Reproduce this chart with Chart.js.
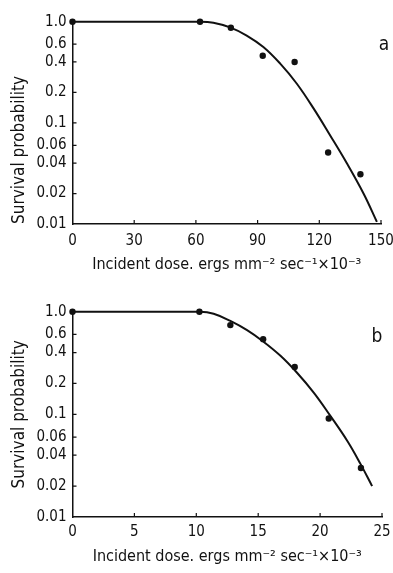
<!DOCTYPE html>
<html>
<head>
<meta charset="utf-8">
<script src="https://cdn.jsdelivr.net/npm/chart.js@4.4.1/dist/chart.umd.min.js"></script>
<style>
  html,body{margin:0;padding:0;background:#fff;}
  .wrap{position:absolute;left:0;width:393px;}
  #wrapA{top:0;height:286px;}
  #wrapB{top:286px;height:287px;}
</style>
</head>
<body>
<div class="wrap" id="wrapA"><canvas id="chartA"></canvas></div>
<div class="wrap" id="wrapB"><canvas id="chartB"></canvas></div>
<script>
// shared log axis ticks
const Y_TICKS=[1,0.6,0.4,0.2,0.1,0.06,0.04,0.02,0.01];
const Y_TICK_LABELS=["1.0","0.6","0.4","0.2","0.1","0.06","0.04","0.02","0.01"];

// panel a
const A_DOSE=[0,62,77,92.5,108,124.3,140];
const A_SURV=[1.0,1.0,0.87,0.46,0.40,0.051,0.031];
const A_FIT_DOSE=[0,62,68.5,76.6,84.7,92.8,101,109,117.2,125.3,133.4,141.5,148];
const A_FIT_SURV=[1,1,0.977,0.879,0.73,0.562,0.385,0.245,0.139,0.075,0.0398,0.020,0.0105];

// panel b
const B_DOSE=[0,10.25,12.75,15.4,17.95,20.7,23.3];
const B_SURV=[1.0,1.0,0.74,0.54,0.29,0.091,0.030];
const B_FIT_DOSE=[0,10.3,11.4,12.75,14.1,15.4,16.8,18.1,19.5,20.8,22.2,23.25,24.2];
const B_FIT_SURV=[1,1,0.955,0.813,0.661,0.513,0.372,0.257,0.162,0.0977,0.055,0.0331,0.020];

const X_TITLE="Incident dose. ergs mm\u207B\u00B2 sec\u207B\u00B9\u00D710\u207B\u00B3";
const Y_TITLE="Survival probability";
const FONT="'Liberation Sans Narrow','DejaVu Sans Condensed','Roboto Condensed',sans-serif";
const INK="#111";

function pts(xs,ys){return xs.map((x,i)=>({x:x,y:ys[i]}));}

// inward tick marks + panel letter
const innerTicks={
  id:"innerTicks",
  afterDatasetsDraw(chart,args,opts){
    const {ctx,chartArea:a,scales:{x,y}}=chart;
    ctx.save();
    ctx.strokeStyle=INK;ctx.lineWidth=1.2;ctx.beginPath();
    x.ticks.forEach(t=>{
      if(t.value===x.min)return;
      const px=x.getPixelForValue(t.value);
      ctx.moveTo(px,a.bottom);ctx.lineTo(px,a.bottom-4);
    });
    y.ticks.forEach(t=>{
      if(t.value===y.min||t.value===y.max)return;
      const py=y.getPixelForValue(t.value);
      ctx.moveTo(a.left,py);ctx.lineTo(a.left+4,py);
    });
    ctx.stroke();
    ctx.fillStyle=INK;ctx.font="19px "+FONT;ctx.textAlign="center";ctx.textBaseline="middle";
    ctx.fillText(opts.tag,a.right+opts.dx,a.top+opts.dy);
    ctx.restore();
  }
};

function makePanel(id,cfg){
  return new Chart(document.getElementById(id),{
    type:"scatter",
    data:{datasets:[
      {data:pts(cfg.fitX,cfg.fitY),showLine:true,borderColor:INK,borderWidth:2,pointRadius:0,
       tension:0.4,clip:false,order:2},
      {data:pts(cfg.dotX,cfg.dotY),showLine:false,pointRadius:3.2,pointBackgroundColor:INK,
       pointBorderColor:INK,pointBorderWidth:0,clip:false,order:1}
    ]},
    options:{
      responsive:true,maintainAspectRatio:false,animation:false,
      layout:{autoPadding:false,padding:{top:cfg.top,right:cfg.right,left:0,bottom:0}},
      plugins:{legend:{display:false},tooltip:{enabled:false},
        innerTicks:{tag:cfg.tag,dx:cfg.tagDx,dy:cfg.tagDy}},
      scales:{
        x:{type:"linear",min:0,max:cfg.xMax,
          ticks:{stepSize:cfg.xStep,color:INK,padding:cfg.xPad,font:{family:FONT,size:15}},
          grid:{display:false,drawTicks:false},
          border:{display:true,color:INK,width:1.5},
          title:{display:true,text:X_TITLE,color:INK,font:{family:FONT,size:16},
            padding:{top:0,bottom:cfg.titlePad}},
          afterFit:s=>{s.height=cfg.xH;s.paddingLeft=0;s.paddingRight=0;}
        },
        y:{type:"logarithmic",min:0.01,max:1,
          afterBuildTicks:s=>{s.ticks=Y_TICKS.map(v=>({value:v}));},
          ticks:{color:INK,padding:6,font:{family:FONT,size:15},autoSkip:false,
            callback:(v)=>{const i=Y_TICKS.indexOf(v);return i<0?"":Y_TICK_LABELS[i];}},
          grid:{display:false,drawTicks:false},
          border:{display:true,color:INK,width:1.5},
          title:{display:true,text:Y_TITLE,color:INK,align:cfg.yAlign,font:{family:FONT,size:17},
            padding:{top:9,bottom:0}},
          afterFit:s=>{s.width=72.5;s.paddingTop=0;s.paddingBottom=0;}
        }
      }
    },
    plugins:[innerTicks]
  });
}

makePanel("chartA",{fitX:A_FIT_DOSE,fitY:A_FIT_SURV,dotX:A_DOSE,dotY:A_SURV,
  xMax:150,xStep:30,top:21.7,right:12,xH:62,xPad:8,titlePad:12,yAlign:"start",tag:"a",tagDx:3,tagDy:23});
makePanel("chartB",{fitX:B_FIT_DOSE,fitY:B_FIT_SURV,dotX:B_DOSE,dotY:B_SURV,
  xMax:25,xStep:5,top:25.7,right:11,xH:56,xPad:6,titlePad:7,yAlign:"center",tag:"b",tagDx:-5,tagDy:25});
</script>
</body>
</html>
